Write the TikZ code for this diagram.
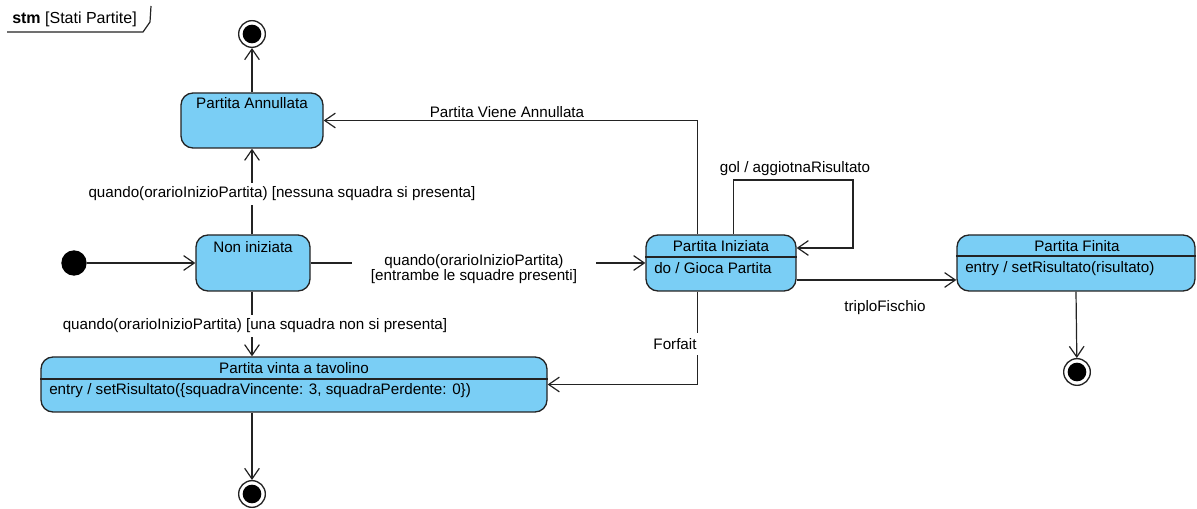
\documentclass[tikz,border=0pt]{standalone}
\usepackage{fontspec}
\setmainfont{Liberation Sans}
\usetikzlibrary{arrows.meta,calc,fit}
\definecolor{statefill}{RGB}{122,206,245}
\definecolor{ink}{RGB}{35,35,35}

\begin{document}
\begin{tikzpicture}[x=0.75pt,y=-0.75pt,
  font=\fontsize{11.4}{11.6}\selectfont,
  stbox/.style={draw=ink, fill=statefill, line width=1pt, rounded corners=9pt, inner sep=0pt},
  conn/.style={draw=ink, line width=0.9pt},
  arr/.style={conn, -{Straight Barb[length=8pt,width=11pt]}},
  lbl/.style={fill=white, inner sep=3pt},
  txt/.style={inner sep=0pt},
  endst/.style={circle, draw=ink, fill=white, line width=1pt, minimum size=20pt, inner sep=0pt,
    path picture={\fill[black] (path picture bounding box.center) circle (7pt);}},
  startst/.style={circle, fill=black, minimum size=19pt, inner sep=0pt},
  divider/.style={draw=ink, line width=0.9pt},
]
\useasboundingbox (0,0) rectangle (1197,509);

% frame tag
\node[txt, anchor=west, font=\fontsize{12}{14}\selectfont] (tag) at (12,19) {\textbf{stm} [Stati Partite]};
\draw[conn] (7,32) -- (143,32) -- (150,22) -- (151,6);

% states
\node[stbox, fit={(181,93) (323,148)}] (ann) {};
\node[txt] (annT) at (252,103) {Partita Annullata};

\node[stbox, fit={(196,235) (310,291)}] (nonin) {};
\node[txt] (noninT) at (253,247) {Non iniziata};

\node[stbox, fit={(646,235) (796,291)}] (iniz) {};
\node[txt] (inizT) at (721,246) {Partita Iniziata};
\draw[divider] (iniz.west |- 0,257) -- (iniz.east |- 0,257);
\node[txt, anchor=west] (inizD) at (654,268) {do / Gioca Partita};

\node[stbox, fit={(957,235) (1195,291)}] (fin) {};
\node[txt] (finT) at (1077,246) {Partita Finita};
\draw[divider] (fin.west |- 0,256) -- (fin.east |- 0,256);
\node[txt, anchor=west] (finE) at (965,269) {entry / setRisultato(risultato)};

\node[stbox, fit={(41,357) (547,412)}] (vinta) {};
\node[txt] (vintaT) at (294,368) {Partita vinta a tavolino};
\draw[divider] (vinta.west |- 0,379) -- (vinta.east |- 0,379);
\node[txt, anchor=west] (vintaE) at (49,391) {entry / setRisultato(\{squadraVincente: 3, squadraPerdente: 0\})};

% pseudo states
\node[startst] (init) at (74,263) {};
\node[endst] (end1) at (252,34) {};
\node[endst] (end2) at (252,494) {};
\node[endst] (end3) at (1077,372) {};

% transitions
\draw[arr] (init) -- (nonin.west);
\draw[arr] (ann.north) -- (end1);

\draw[arr] (nonin.north -| ann.south) -- (ann.south);
\node[lbl] (l1) at (282,194) {quando(orarioInizioPartita) [nessuna squadra si presenta]};

\draw[arr] (nonin.east) -- (iniz.west);
\node[lbl, align=center, inner xsep=14.5pt, inner ysep=2pt] (l2) at (474,269)
  {quando(orarioInizioPartita)\\{}[entrambe le squadre presenti]};

\draw[arr] (nonin.south -| ann.south) -- (vinta.north -| ann.south);
\node[lbl] (l3) at (255,326) {quando(orarioInizioPartita) [una squadra non si presenta]};

\draw[arr] (vinta.south -| ann.south) -- (end2);

% cancelled from the started state
\coordinate (upA) at ($(iniz.north west)+(52,0)$);
\draw[arr] (upA) |- (ann.east);
\node[txt] (l4) at (507,112) {Partita Viene Annullata};

% goal loop
\coordinate (loopA) at ($(iniz.north west)+(88,0)$);
\coordinate (loopB) at (853,180);
\coordinate (loopC) at ($(iniz.east)+(0,-15)$);
\draw[arr] (loopA) |- (loopB) |- (loopC);
\node[txt] (l5) at (795,169) {gol / aggiotnaRisultato};

% forfeit
\coordinate (dnA) at ($(iniz.south west)+(52,0)$);
\draw[arr] (dnA) |- (vinta.east);
\node[fill=white, inner xsep=1pt, inner ysep=4pt] (l6) at (675,344) {Forfait};

% final whistle
\draw[arr] ($(iniz.east)+(0,17)$) -- ($(fin.west)+(0,17)$);
\node[txt] (l7) at (885,308) {triploFischio};

\draw[arr] (fin.south) -- (end3);
\end{tikzpicture}
\end{document}
